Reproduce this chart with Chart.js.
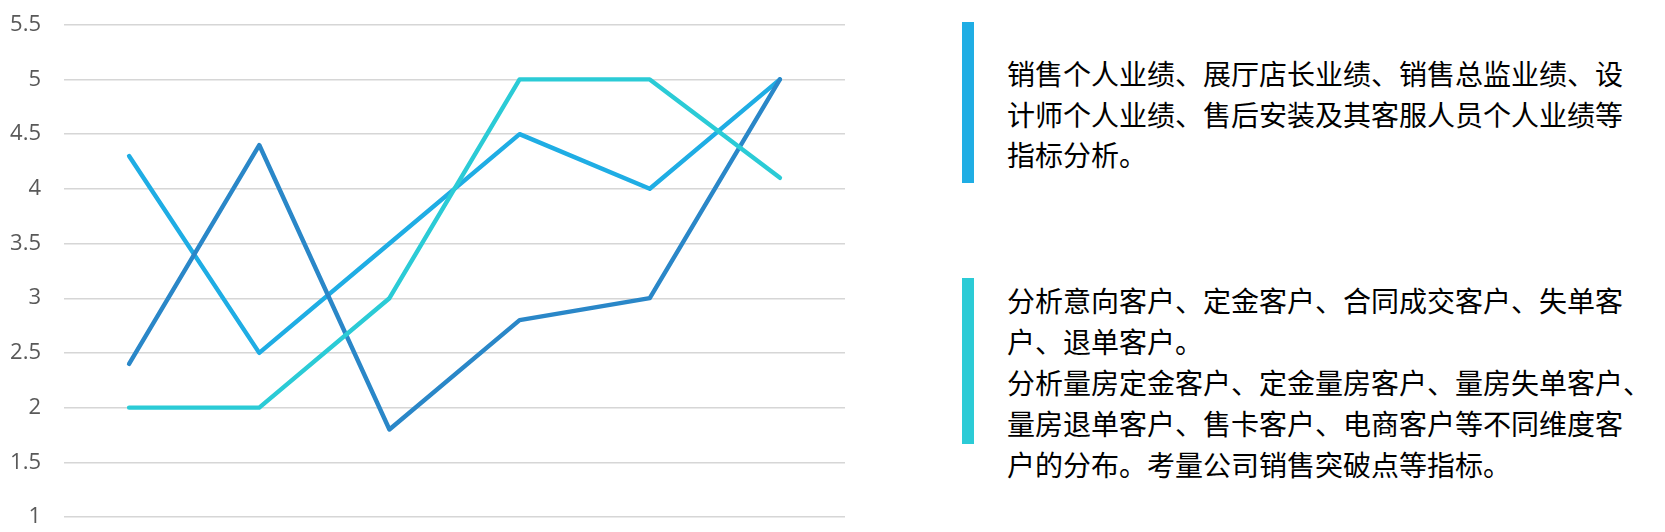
<!DOCTYPE html>
<html>
<head>
<meta charset="utf-8">
<script src="https://cdn.jsdelivr.net/npm/chart.js@4.4.0/dist/chart.umd.min.js"></script>
<style>
  html, body { margin: 0; padding: 0; background: #ffffff; width: 1665px; height: 532px; overflow: hidden; }
  #wrap { position: absolute; left: 0; top: 0; width: 860px; height: 532px; }
  #c { display: block; }
  .bar { position: absolute; left: 962px; width: 12px; }
  .txt { position: absolute; left: 1007px; font-family: "Noto Sans CJK SC", "Noto Sans", sans-serif; font-size: 28px; color: #000000; white-space: nowrap; }
</style>
</head>
<body>
<div id="wrap"><canvas id="c" width="860" height="532"></canvas></div>
<div class="bar" style="top:22px;height:161px;background:#1FADE4;"></div>
<div class="txt" id="t1" style="top:53px;line-height:40.5px;"></div>
<div class="bar" style="top:278px;height:166px;background:#2BCBD6;"></div>
<div class="txt" id="t2" style="top:280px;line-height:40.9px;"></div>
<script>
// ---- data ----
const categories = ['类别1', '类别2', '类别3', '类别4', '类别5', '类别6'];
const seriesA = [2.4, 4.4, 1.8, 2.8, 3.0, 5.0];
const seriesB = [4.3, 2.5, 3.5, 4.5, 4.0, 5.0];
const seriesC = [2.0, 2.0, 3.0, 5.0, 5.0, 4.1];
const seriesNames = ['系列1', '系列2', '系列3'];
const yTicks = [1, 1.5, 2, 2.5, 3, 3.5, 4, 4.5, 5, 5.5];
const textBlock1 = [
  '销售个人业绩、展厅店长业绩、销售总监业绩、设',
  '计师个人业绩、售后安装及其客服人员个人业绩等',
  '指标分析。'
];
const textBlock2 = [
  '分析意向客户、定金客户、合同成交客户、失单客',
  '户、退单客户。',
  '分析量房定金客户、定金量房客户、量房失单客户、',
  '量房退单客户、售卡客户、电商客户等不同维度客',
  '户的分布。考量公司销售突破点等指标。'
];

function fillText(id, lines) {
  const el = document.getElementById(id);
  lines.forEach((l, i) => {
    if (i > 0) el.appendChild(document.createElement('br'));
    el.appendChild(document.createTextNode(l));
  });
}
fillText('t1', textBlock1);
fillText('t2', textBlock2);

const lineStyle = { borderWidth: 4.4, pointRadius: 0, pointHoverRadius: 0, tension: 0, fill: false,
  borderCapStyle: 'round', borderJoinStyle: 'round' };

// desired plot area (canvas pixels)
const AREA = { top: 24.7, bottom: 517, right: 845 };

const chart = new Chart(document.getElementById('c'), {
  type: 'line',
  data: {
    labels: categories,
    datasets: [
      Object.assign({ label: seriesNames[0], data: seriesA, borderColor: '#2A87C8', backgroundColor: '#2A87C8', order: 2 }, lineStyle),
      Object.assign({ label: seriesNames[1], data: seriesB, borderColor: '#1FADE4', backgroundColor: '#1FADE4', order: 3 }, lineStyle),
      Object.assign({ label: seriesNames[2], data: seriesC, borderColor: '#2BCBD6', backgroundColor: '#2BCBD6', order: 1 }, lineStyle)
    ]
  },
  options: {
    responsive: false,
    animation: false,
    layout: { padding: { top: 24.7, bottom: 15, right: 15, left: 0 } },
    plugins: { legend: { display: false }, tooltip: { enabled: false } },
    scales: {
      x: { type: 'category', offset: true, display: false },
      y: {
        min: yTicks[0], max: yTicks[yTicks.length - 1],
        afterBuildTicks: (scale) => { scale.ticks = yTicks.map(v => ({ value: v })); },
        afterFit: (scale) => { scale.width = 64; },
        ticks: {
          padding: 0,
          color: '#595959',
          font: { family: '"Open Sans", Lato, sans-serif', size: 22, lineHeight: 1.2 },
          callback: (v) => String(v)
        },
        grid: { color: '#D6D6D6', lineWidth: 1.4, drawTicks: true, tickLength: 23, tickColor: 'rgba(0,0,0,0)' },
        border: { display: false }
      }
    }
  }
});

// correct layout padding so the plot area lands where the reference has it
for (let i = 0; i < 3; i++) {
  const ca = chart.chartArea;
  const p = chart.options.layout.padding;
  p.top = Math.max(0, p.top + (AREA.top - ca.top));
  p.bottom = Math.max(0, p.bottom + (ca.bottom - AREA.bottom));
  p.right = Math.max(0, p.right + (ca.right - AREA.right));
  chart.update('none');
}
</script>
</body>
</html>
